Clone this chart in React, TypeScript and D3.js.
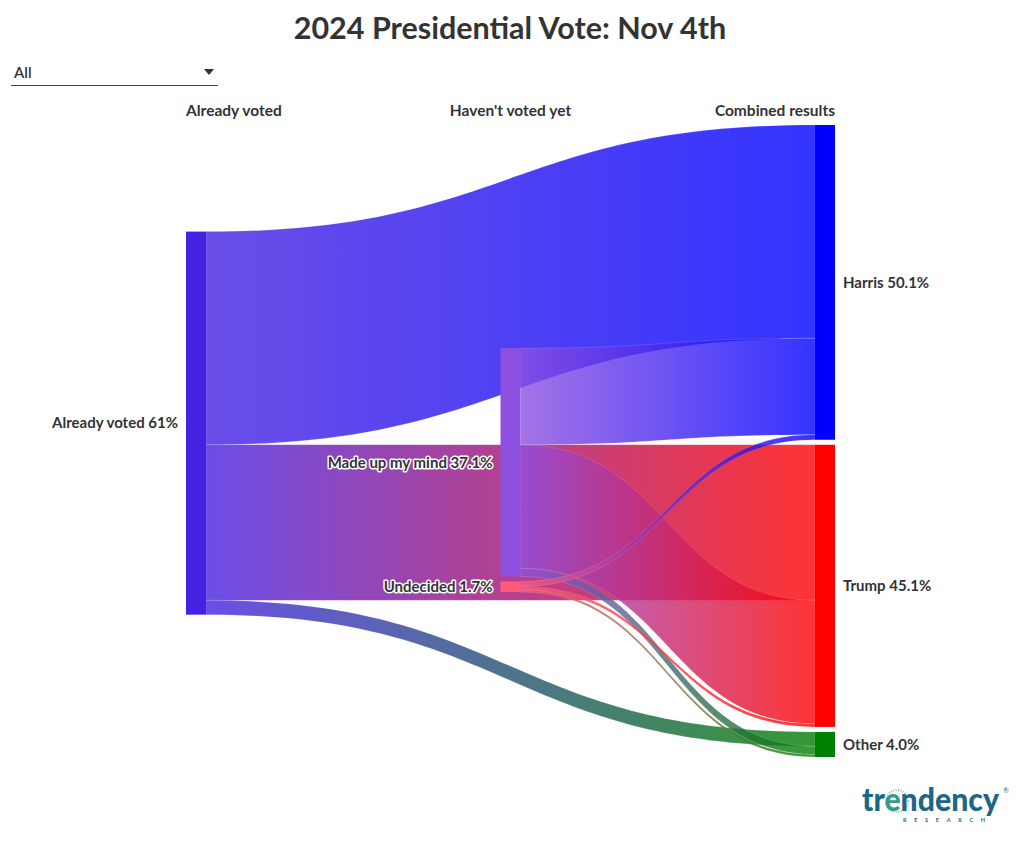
import React from "react";
import * as d3 from "d3";

// ---------- data ----------
const nodeNames = ["Already voted", "Made up my mind", "Undecided", "Harris", "Trump", "Other"];
const nodeLabels = ["Already voted 61%", "Made up my mind 37.1%", "Undecided 1.7%", "Harris 50.1%", "Trump 45.1%", "Other 4.0%"];
const nodeColumns = [0, 1, 1, 2, 2, 2];
const nodeColors = ["#4521E1", "#8E50E0", "#FF5A78", "#0000FF", "#FF0000", "#008000"];

const linkSources = [0, 0, 0, 1, 1, 1, 2, 2, 2];
const linkTargets = [3, 4, 5, 3, 4, 5, 3, 4, 5];
const linkValues = [34.0, 24.8, 2.3, 15.4, 19.7, 1.3, 0.8, 0.5, 0.4];

const columnHeaders = ["Already voted", "Haven't voted yet", "Combined results"];
const title = "2024 Presidential Vote: Nov 4th";
const dropdownValue = "All";

// ---------- layout constants ----------
const W = 1020;
const H = 843;
const NODE_W = 20;
const GAP = 5;
const TOP = 125;
const FONT = "Lato, 'Open Sans', sans-serif";
const TEXT = "#333333";

type N = { i: number; name: string; label: string; col: number; color: string; x0: number; x1: number; y0: number; y1: number; value: number };
type L = { i: number; s: number; t: number; v: number; w: number; sy: number; ty: number };

function layout() {
  const xCol = d3.scaleLinear().domain([0, 2]).range([186, 815]);
  const hScale = d3.scaleLinear().domain([0, 1]).range([0, 6.27]);
  const links: L[] = linkValues.map((v, i) => ({ i, s: linkSources[i], t: linkTargets[i], v, w: hScale(v), sy: 0, ty: 0 }));
  const nodes: N[] = nodeNames.map((name, i) => {
    const out = d3.sum(links.filter((l) => l.s === i), (l) => l.v);
    const inn = d3.sum(links.filter((l) => l.t === i), (l) => l.v);
    const value = Math.max(out, inn);
    const x0 = xCol(nodeColumns[i]);
    return { i, name, label: nodeLabels[i], col: nodeColumns[i], color: nodeColors[i], x0, x1: x0 + NODE_W, y0: 0, y1: 0, value };
  });
  let y = TOP;
  nodes.filter((n) => n.col === 2).forEach((n) => {
    n.y0 = y;
    n.y1 = y + hScale(n.value);
    y = n.y1 + GAP;
  });
  const anchor = nodes[4];
  [0, 1].forEach((c) => {
    const colNodes = nodes.filter((n) => n.col === c);
    let yy = 0;
    colNodes.forEach((n, k) => {
      if (k === 0) {
        const above = d3.sum(links.filter((l) => l.s === n.i && l.t < anchor.i), (l) => l.w);
        n.y0 = anchor.y0 - above;
      } else {
        n.y0 = yy;
      }
      n.y1 = n.y0 + hScale(n.value);
      yy = n.y1 + GAP;
    });
  });
  nodes.forEach((n) => {
    let so = n.y0;
    links.filter((l) => l.s === n.i).sort((a, b) => a.t - b.t).forEach((l) => {
      l.sy = so + l.w / 2;
      so += l.w;
    });
    let to = n.y0;
    links.filter((l) => l.t === n.i).sort((a, b) => a.s - b.s).forEach((l) => {
      l.ty = to + l.w / 2;
      to += l.w;
    });
  });
  return { nodes, links, xCol };
}

function linkPath(l: L, nodes: N[]) {
  const x0 = nodes[l.s].x1;
  const x1 = nodes[l.t].x0;
  const xi = d3.interpolateNumber(x0, x1);
  const x2 = xi(0.5);
  const x3 = xi(0.5);
  const y0a = l.sy - l.w / 2, y0b = l.sy + l.w / 2, y1a = l.ty - l.w / 2, y1b = l.ty + l.w / 2;
  const p = d3.path();
  p.moveTo(x0, y0a);
  p.bezierCurveTo(x2, y0a, x3, y1a, x1, y1a);
  p.lineTo(x1, y1b);
  p.bezierCurveTo(x3, y1b, x2, y0b, x0, y0b);
  p.closePath();
  return p.toString();
}

export default function App() {
  const { nodes, links, xCol } = layout();
  const labelStyle = {
    fontFamily: FONT,
    fontWeight: 700,
    fontSize: 15,
    fill: TEXT,
    stroke: "white",
    strokeWidth: 3,
    strokeLinejoin: "round" as const,
    paintOrder: "stroke" as const,
  };
  return (
    <svg width={W} height={H} style={{ position: "absolute", left: 0, top: 0, display: "block", background: "white" }}>
      <defs>
        {links.map((l) => (
          <linearGradient key={l.i} id={`g${l.i}`} gradientUnits="userSpaceOnUse" x1={nodes[l.s].x1} x2={nodes[l.t].x0} y1={0} y2={0}>
            <stop offset="0%" stopColor={nodes[l.s].color} />
            <stop offset="100%" stopColor={nodes[l.t].color} />
          </linearGradient>
        ))}
      </defs>
      <text x={W / 2} y={39} textAnchor="middle" style={{ fontFamily: FONT, fontWeight: 700, fontSize: 30.5, fill: TEXT }}>
        {title}
      </text>
      <g>
        <text x={14} y={78} style={{ fontFamily: FONT, fontWeight: 600, fontSize: 15, fill: TEXT }}>{dropdownValue}</text>
        <line x1={11} x2={218} y1={85.5} y2={85.5} stroke="#444" strokeWidth={1} />
        <path d="M204,69 L214,69 L209,75 Z" fill="#333" />
      </g>
      {columnHeaders.map((h, c) => {
        const x = c === 0 ? xCol(c) : c === 1 ? xCol(c) + NODE_W / 2 : xCol(c) + NODE_W;
        const anchor = c === 0 ? "start" : c === 1 ? "middle" : "end";
        return (
          <text key={h} x={x} y={116} textAnchor={anchor} style={{ fontFamily: FONT, fontWeight: 700, fontSize: 15.5, fill: TEXT }}>
            {h}
          </text>
        );
      })}
      <g>
        {links.map((l) => (
          <path key={l.i} d={linkPath(l, nodes)} fill={`url(#g${l.i})`} fillOpacity={0.8} stroke="white" strokeOpacity={0.25} strokeWidth={0.5} />
        ))}
      </g>
      <g>
        {nodes.map((n) => (
          <rect key={n.i} x={n.x0} y={n.y0} width={NODE_W} height={n.y1 - n.y0} fill={n.color} />
        ))}
      </g>
      <g>
        {nodes.map((n) => {
          const right = n.col === 2;
          return (
            <text
              key={n.i}
              x={right ? n.x1 + 8 : n.x0 - 8}
              y={(n.y0 + n.y1) / 2}
              dy="0.35em"
              textAnchor={right ? "start" : "end"}
              style={labelStyle}
            >
              {n.label}
            </text>
          );
        })}
      </g>
      <g>
        <circle cx={897} cy={801} r={11} fill="none" stroke="#7cc49a" strokeWidth={2} strokeDasharray="1 1.5" />
        <text x={862} y={811} textLength={137} lengthAdjust="spacingAndGlyphs" style={{ fontFamily: FONT, fontWeight: 900, fontSize: 32, fill: "#1d6685" }}>
          <tspan>tr</tspan>
          <tspan fill="#3a9a8a">e</tspan>
          <tspan>ndency</tspan>
        </text>
        <text x={1003} y={793} style={{ fontFamily: FONT, fontSize: 7, fill: "#1d6685" }}>®</text>
        <text x={903} y={822} textLength={82} style={{ fontFamily: FONT, fontWeight: 700, fontSize: 5.5, fill: "#1d6685" }}>RESEARCH</text>
      </g>
    </svg>
  );
}
